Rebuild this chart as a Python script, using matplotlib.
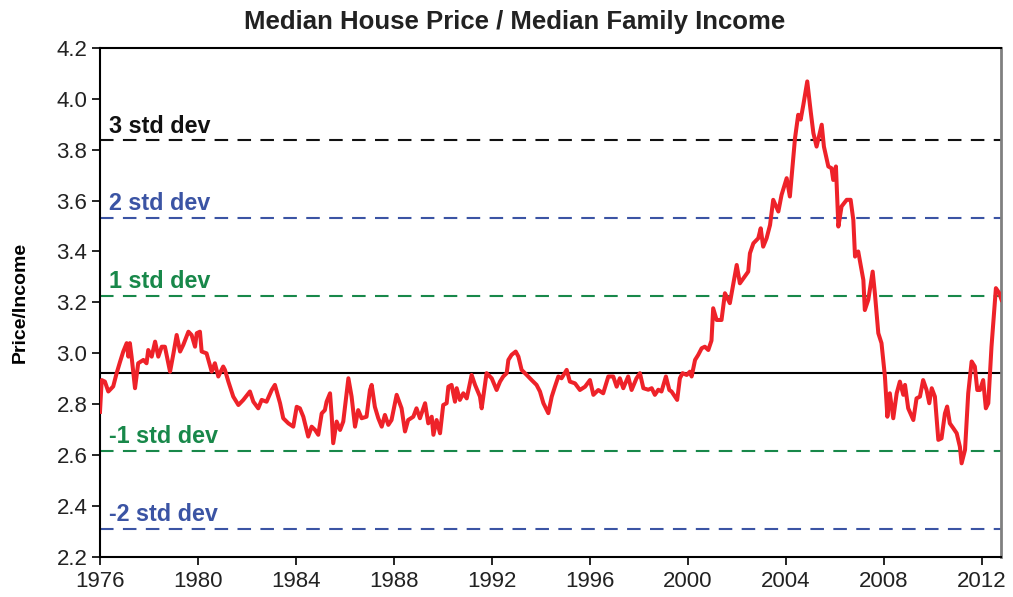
import matplotlib
matplotlib.use('Agg')
import matplotlib.pyplot as plt

plt.rcParams['font.family'] = ['Liberation Sans', 'DejaVu Sans']

# price / income ratio (decimal year, ratio)
years = [
    1976.00, 1976.07, 1976.20, 1976.34, 1976.54, 1976.68, 1976.82, 1976.95, 1977.09, 1977.16,
    1977.22, 1977.29, 1977.43, 1977.56, 1977.77, 1977.90, 1977.97, 1978.11, 1978.25, 1978.38,
    1978.52, 1978.65, 1978.86, 1979.00, 1979.13, 1979.27, 1979.40, 1979.61, 1979.74, 1979.88,
    1979.95, 1980.08, 1980.15, 1980.35, 1980.56, 1980.69, 1980.83, 1981.03, 1981.10, 1981.24,
    1981.44, 1981.65, 1981.85, 1982.12, 1982.26, 1982.46, 1982.60, 1982.80, 1983.01, 1983.14,
    1983.35, 1983.48, 1983.69, 1983.89,
    1984.03, 1984.16, 1984.30, 1984.50, 1984.64, 1984.78, 1984.91, 1985.05, 1985.18, 1985.25,
    1985.39, 1985.46, 1985.52, 1985.66, 1985.80, 1985.93, 1986.14, 1986.27, 1986.41, 1986.54,
    1986.68, 1986.88, 1987.02, 1987.09, 1987.22, 1987.36, 1987.50, 1987.63, 1987.77, 1987.90,
    1988.11, 1988.31, 1988.45, 1988.58, 1988.79, 1988.92, 1989.06, 1989.27, 1989.40, 1989.54,
    1989.61, 1989.74, 1989.88, 1990.01, 1990.15, 1990.22, 1990.35, 1990.49, 1990.56, 1990.69,
    1990.83, 1990.97, 1991.17, 1991.31, 1991.51, 1991.58, 1991.78,
    1991.99, 1992.19, 1992.33, 1992.46, 1992.60, 1992.67, 1992.80, 1992.97, 1993.08, 1993.21,
    1993.42, 1993.62, 1993.82, 1993.96, 1994.10, 1994.30, 1994.44, 1994.57, 1994.71, 1994.84,
    1995.05, 1995.18, 1995.39, 1995.59, 1995.80, 1996.00, 1996.14, 1996.34, 1996.54, 1996.75,
    1996.95, 1997.09, 1997.22, 1997.36, 1997.56, 1997.70, 1997.90,
    1998.04, 1998.18, 1998.38, 1998.52, 1998.65, 1998.79, 1998.92, 1999.10, 1999.24, 1999.33,
    1999.47, 1999.56, 1999.67, 1999.78, 1999.95, 2000.08, 2000.15, 2000.29, 2000.42, 2000.56,
    2000.69, 2000.83, 2000.96,
    2001.03, 2001.17, 2001.37, 2001.51, 2001.71, 2001.99, 2002.12, 2002.46, 2002.53, 2002.67,
    2002.87, 2002.97, 2003.07, 2003.21, 2003.35, 2003.48, 2003.69, 2003.82, 2004.03, 2004.16,
    2004.37, 2004.50, 2004.60, 2004.71, 2004.87, 2005.01, 2005.12, 2005.25, 2005.46, 2005.55,
    2005.73, 2005.86, 2005.93, 2006.04, 2006.14, 2006.27, 2006.48, 2006.64, 2006.75, 2006.82,
    2006.95,
    2007.16, 2007.22, 2007.36, 2007.54, 2007.63, 2007.77, 2007.90, 2008.04, 2008.14, 2008.24,
    2008.38, 2008.52, 2008.65, 2008.79, 2008.86, 2008.99, 2009.20, 2009.33, 2009.47, 2009.60,
    2009.74, 2009.85, 2009.95, 2010.08, 2010.22, 2010.35, 2010.49, 2010.58, 2010.69, 2010.83,
    2010.97, 2011.10, 2011.17, 2011.31, 2011.44, 2011.58, 2011.71, 2011.81, 2011.92, 2012.05,
    2012.16, 2012.26, 2012.39, 2012.57, 2012.71, 2012.80,
]
ratio = [
    2.770, 2.895, 2.889, 2.850, 2.870, 2.922, 2.967, 3.007, 3.040, 2.987,
    3.040, 2.987, 2.863, 2.961, 2.974, 2.961, 3.013, 2.987, 3.046, 2.987,
    3.026, 3.026, 2.928, 3.000, 3.072, 3.007, 3.033, 3.085, 3.072, 3.026,
    3.079, 3.085, 3.007, 3.000, 2.928, 2.961, 2.909, 2.948, 2.935, 2.889,
    2.830, 2.797, 2.817, 2.850, 2.810, 2.784, 2.817, 2.810, 2.856, 2.876,
    2.804, 2.745, 2.725, 2.712,
    2.790, 2.784, 2.751, 2.673, 2.712, 2.699, 2.680, 2.764, 2.777, 2.810,
    2.843, 2.751, 2.647, 2.732, 2.699, 2.732, 2.902, 2.830, 2.712, 2.777,
    2.745, 2.751, 2.856, 2.876, 2.790, 2.745, 2.712, 2.758, 2.719, 2.738,
    2.837, 2.784, 2.693, 2.738, 2.751, 2.784, 2.745, 2.804, 2.725, 2.751,
    2.680, 2.738, 2.686, 2.797, 2.804, 2.869, 2.876, 2.810, 2.863, 2.817,
    2.843, 2.823, 2.915, 2.876, 2.830, 2.784, 2.922,
    2.902, 2.856, 2.889, 2.909, 2.922, 2.974, 2.994, 3.007, 2.987, 2.935,
    2.915, 2.895, 2.876, 2.850, 2.804, 2.765, 2.830, 2.869, 2.909, 2.902,
    2.935, 2.889, 2.882, 2.856, 2.869, 2.895, 2.837, 2.856, 2.843, 2.909,
    2.909, 2.869, 2.902, 2.863, 2.909, 2.856, 2.902,
    2.922, 2.863, 2.857, 2.863, 2.837, 2.857, 2.850, 2.909, 2.856, 2.850,
    2.830, 2.817, 2.902, 2.922, 2.915, 2.928, 2.909, 2.974, 2.994, 3.020,
    3.026, 3.013, 3.050,
    3.177, 3.131, 3.131, 3.236, 3.197, 3.347, 3.275, 3.321, 3.393, 3.432,
    3.452, 3.491, 3.419, 3.452, 3.504, 3.603, 3.557, 3.622, 3.688, 3.616,
    3.845, 3.937, 3.918, 3.976, 4.068, 3.950, 3.865, 3.812, 3.898, 3.812,
    3.734, 3.727, 3.681, 3.734, 3.498, 3.577, 3.603, 3.603, 3.524, 3.380,
    3.400,
    3.288, 3.170, 3.210, 3.321, 3.236, 3.079, 3.040, 2.909, 2.751, 2.843,
    2.745, 2.843, 2.889, 2.837, 2.876, 2.784, 2.738, 2.823, 2.830, 2.895,
    2.856, 2.804, 2.863, 2.830, 2.660, 2.666, 2.764, 2.791, 2.725, 2.706,
    2.686, 2.633, 2.568, 2.621, 2.843, 2.968, 2.948, 2.856, 2.856, 2.895,
    2.784, 2.804, 3.026, 3.256, 3.236, 3.210,
]

mean_ratio = 2.921
std_ratio = 0.305
band_k = [3, 2, 1, -1, -2]
band_labels = ['3 std dev', '2 std dev', '1 std dev', '-1 std dev', '-2 std dev']
band_colors = ['#111111', '#3B54A4', '#18884A', '#18884A', '#3B54A4']

x_ticks = list(range(1976, 2013, 4))
y_ticks = [2.2, 2.4, 2.6, 2.8, 3.0, 3.2, 3.4, 3.6, 3.8, 4.0, 4.2]

fig = plt.figure(figsize=(10.13, 5.97), dpi=100)
ax = fig.add_axes([0.0987, 0.067, 0.8895, 0.8529])

ax.axhline(mean_ratio, color='black', lw=1.5, zorder=2)
for k, lab, col in zip(band_k, band_labels, band_colors):
    lvl = mean_ratio + k * std_ratio
    ax.axhline(lvl, color=col, lw=1.5, dashes=(6.5, 4.5), zorder=2)
    ax.annotate(lab, xy=(1976.35, lvl), xytext=(0, 2), textcoords='offset points',
                color=col, fontsize=16.8, fontweight='bold', va='bottom', ha='left')

ax.plot(years, ratio, color='#EE2229', lw=2.9, zorder=3, solid_joinstyle='round')

ax.set_xlim(1976, 2012.78)
ax.set_ylim(2.2, 4.2)
ax.set_xticks(x_ticks)
ax.set_yticks(y_ticks)
ax.set_yticklabels([f'{v:.1f}' for v in y_ticks])
ax.tick_params(direction='out', length=6, width=1.2, labelsize=16, labelcolor='#222222', pad=3)
ax.tick_params(axis='x', pad=4)

for side in ['left', 'bottom', 'top']:
    ax.spines[side].set_color('black')
    ax.spines[side].set_linewidth(1.5)
ax.spines['right'].set_color('#808080')
ax.spines['right'].set_linewidth(2)

ax.set_ylabel('Price/Income', fontsize=14, fontweight='bold', labelpad=20)
fig.text(0.508, 0.963, 'Median House Price / Median Family Income', fontsize=18.5,
         fontweight='bold', color='#222222', ha='center', va='center')

fig.savefig('out.png', dpi=100)
